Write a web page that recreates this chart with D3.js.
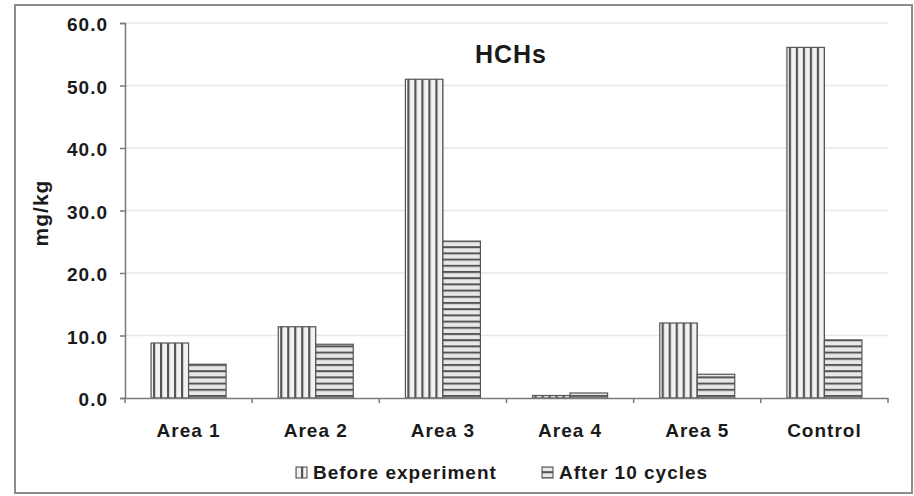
<!DOCTYPE html>
<html>
<head>
<meta charset="utf-8">
<script src="https://cdn.jsdelivr.net/npm/d3@7/dist/d3.min.js"></script>
<style>
  body { margin: 0; background: #fff; }
  svg text { font-family: "Liberation Sans", Arial, sans-serif; font-weight: bold; fill: #1a1a1a; letter-spacing: 1px; }
</style>
</head>
<body>
<svg id="chart" width="914" height="496"></svg>
<script>
    // values (mg/kg)
    var categories = ["Area 1", "Area 2", "Area 3", "Area 4", "Area 5", "Control"];
    var seriesNames = ["Before experiment", "After 10 cycles"];
    var beforeValues = [8.8, 11.4, 51.0, 0.4, 12.0, 56.1];
    var afterValues = [5.4, 8.6, 25.1, 0.8, 3.8, 9.3];
    var yTicks = [0, 10, 20, 30, 40, 50, 60];

    var svg = d3.select("#chart"),
        margin = {top: 23, right: 26, bottom: 98, left: 125},
        width = +svg.attr("width") - margin.left - margin.right,
        height = +svg.attr("height") - margin.top - margin.bottom;

    // outer frame
    svg.append("rect")
        .attr("x", 15).attr("y", 5)
        .attr("width", 897).attr("height", 488)
        .attr("fill", "none")
        .attr("stroke", "#8c8c8c")
        .attr("stroke-width", 2);

    var defs = svg.append("defs");
    defs.append("pattern")
        .attr("id", "vstripe")
        .attr("patternUnits", "userSpaceOnUse")
        .attr("width", 7).attr("height", 10)
        .call(function(p) {
            p.append("rect").attr("width", 7).attr("height", 10).attr("fill", "#f2f2f2");
            p.append("rect").attr("x", 0).attr("width", 2.2).attr("height", 10).attr("fill", "#555");
        });
    defs.append("pattern")
        .attr("id", "hstripe")
        .attr("patternUnits", "userSpaceOnUse")
        .attr("width", 10).attr("height", 6.2)
        .call(function(p) {
            p.append("rect").attr("width", 10).attr("height", 6.2).attr("fill", "#e8e8e8");
            p.append("rect").attr("y", 0).attr("width", 10).attr("height", 2).attr("fill", "#555");
        });

    var g = svg.append("g").attr("transform", "translate(" + margin.left + "," + margin.top + ")");

    var x = d3.scaleBand()
        .domain(categories)
        .range([0, width]);

    var x1 = d3.scaleBand()
        .domain(seriesNames)
        .range([x.bandwidth() / 2 - 37.5, x.bandwidth() / 2 + 37.5]);

    var y = d3.scaleLinear()
        .domain([0, 60])
        .range([height, 0]);

    // gridlines
    g.append("g")
        .selectAll("line")
        .data(yTicks.slice(1))
        .enter().append("line")
        .attr("x1", 0).attr("x2", width)
        .attr("y1", function(d) { return y(d); })
        .attr("y2", function(d) { return y(d); })
        .attr("stroke", "#e6e6e6")
        .attr("stroke-width", 1.5);

    var data = categories.map(function(c, i) {
        return {cat: c, values: [
            {name: seriesNames[0], v: beforeValues[i], fill: "url(#vstripe)"},
            {name: seriesNames[1], v: afterValues[i], fill: "url(#hstripe)"}
        ]};
    });

    g.selectAll(".group")
        .data(data)
        .enter().append("g")
        .attr("class", "group")
        .attr("transform", function(d) { return "translate(" + x(d.cat) + ",0)"; })
        .selectAll("rect")
        .data(function(d) { return d.values; })
        .enter().append("rect")
        .attr("x", function(d) { return x1(d.name); })
        .attr("width", x1.bandwidth())
        .attr("y", function(d) { return y(d.v); })
        .attr("height", function(d) { return height - y(d.v); })
        .attr("fill", function(d) { return d.fill; })
        .attr("stroke", "#555")
        .attr("stroke-width", 1.2);

    // y axis
    var yAxis = g.append("g")
        .call(d3.axisLeft(y).tickValues(yTicks).tickSize(5).tickPadding(12)
            .tickFormat(d3.format(".1f")));
    yAxis.select(".domain").attr("stroke", "#7a7a7a").attr("stroke-width", 1.5);
    yAxis.selectAll(".tick line").attr("stroke", "#7a7a7a").attr("stroke-width", 1.5);
    yAxis.selectAll(".tick text").style("font-size", "19px").attr("dy", "0.4em");

    // x axis
    var xAxis = g.append("g")
        .attr("transform", "translate(0," + height + ")")
        .call(d3.axisBottom(x).tickSize(0).tickPadding(26));
    xAxis.select(".domain").attr("stroke", "#7a7a7a").attr("stroke-width", 1.5);
    xAxis.selectAll(".tick text").style("font-size", "19px");
    xAxis.selectAll(".sep")
        .data(categories.map(function(c) { return x(c); }).concat([width]))
        .enter().append("line")
        .attr("x1", function(d) { return d; })
        .attr("x2", function(d) { return d; })
        .attr("y1", 0).attr("y2", 5)
        .attr("stroke", "#7a7a7a")
        .attr("stroke-width", 1.5);

    // title
    svg.append("text")
        .attr("x", 511).attr("y", 63)
        .attr("text-anchor", "middle")
        .style("font-size", "25px")
        .text("HCHs");

    // y label
    svg.append("text")
        .attr("transform", "translate(48," + 213 + ") rotate(-90)")
        .attr("text-anchor", "middle")
        .style("font-size", "21px")
        .text("mg/kg");

    // legend
    var legend = svg.append("g");
    var legendX = [296, 542];
    seriesNames.forEach(function(name, i) {
        legend.append("rect")
            .attr("x", legendX[i]).attr("y", 467)
            .attr("width", 11).attr("height", 11)
            .attr("fill", i === 0 ? "url(#vstripe)" : "url(#hstripe)")
            .attr("stroke", "#444").attr("stroke-width", 1);
        legend.append("text")
            .attr("x", legendX[i] + 17).attr("y", 479)
            .style("font-size", "19px")
            .text(name);
    });
</script>
</body>
</html>
